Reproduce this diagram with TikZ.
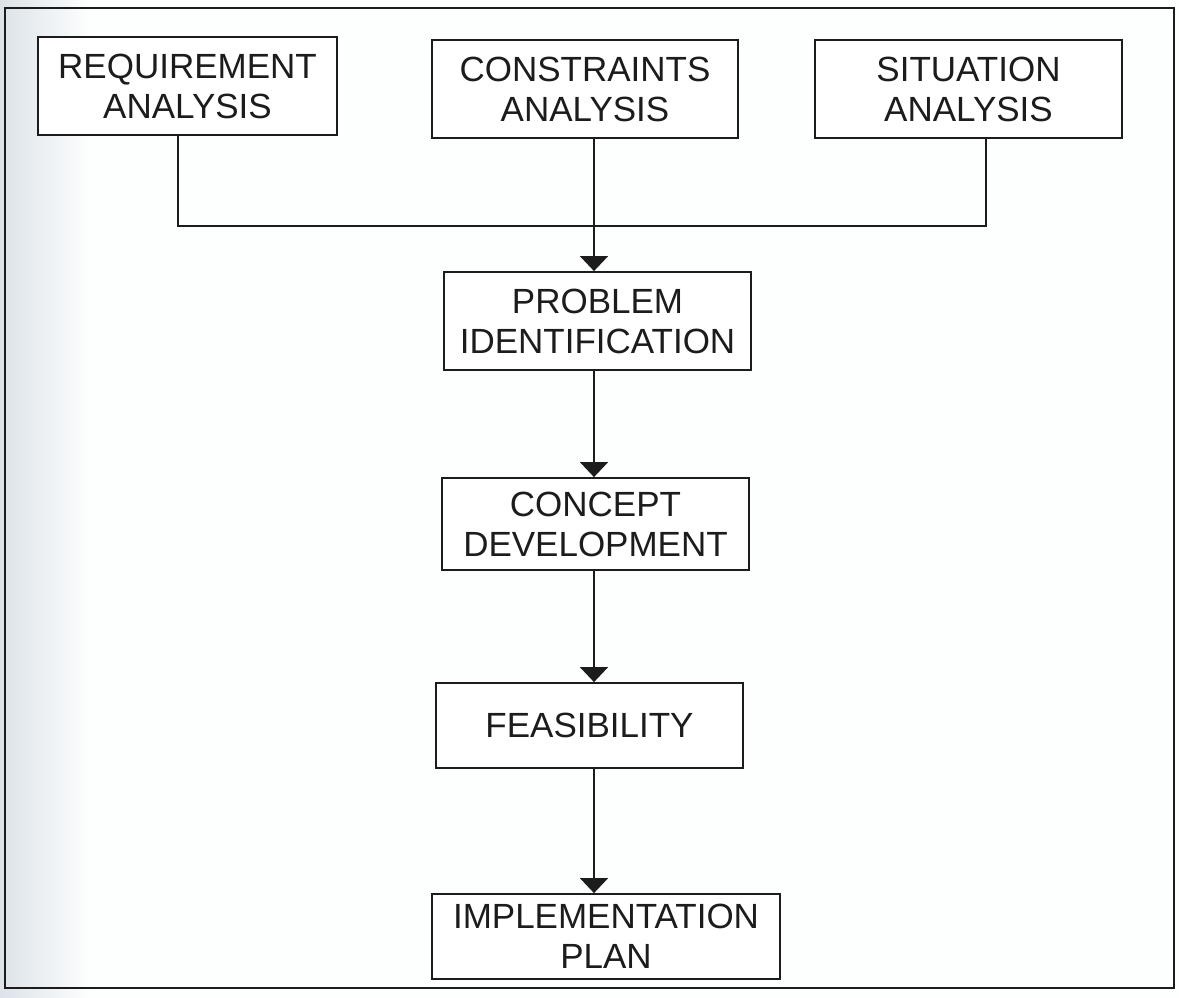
\documentclass[tikz,border=0pt]{standalone}
\usepackage{fontspec}
\setmainfont{Liberation Sans}
\usetikzlibrary{arrows.meta,calc}
\definecolor{ink}{HTML}{1C1C1C}
\definecolor{paper}{HTML}{FDFEFE}
\definecolor{scanedge}{HTML}{DCE3E9}
\begin{document}
\begin{tikzpicture}[x=1pt,y=-1pt,
  stagebox/.style={draw=ink,line width=1.8pt,fill=white,inner sep=0pt,
    minimum width=#1,align=center,text=ink,
    font=\fontsize{35}{40}\selectfont},
  flow/.style={draw=ink,line width=1.6pt},
  arr/.style={flow,-{Triangle[width=28pt,length=15pt]}}]
% page and soft shading at the left edge
\fill[paper] (0,0) rectangle (1179,998);
\shade[left color=scanedge,right color=paper] (0,0) rectangle (90,998);
\useasboundingbox (0,0) rectangle (1179,998);
% outer frame
\draw[ink,line width=2.2pt] (5,8) rectangle (1174,988);

% stages
\node[stagebox=299pt,minimum height=98pt] (req)  at (187.5,86)  {REQUIREMENT\\ANALYSIS};
\node[stagebox=306pt,minimum height=98pt] (cons) at (585,89)    {CONSTRAINTS\\ANALYSIS};
\node[stagebox=307pt,minimum height=98pt] (sit)  at (968.5,89)  {SITUATION\\ANALYSIS};
\node[stagebox=307pt,minimum height=98pt] (prob) at (597.5,321) {PROBLEM\\IDENTIFICATION};
\node[stagebox=307pt,minimum height=92pt] (conc) at (595.5,524) {CONCEPT\\DEVELOPMENT};
\node[stagebox=307pt,minimum height=85pt] (feas) at (589.5,725.5) {FEASIBILITY};
\node[stagebox=348pt,minimum height=85pt] (impl) at (606,936.5) {IMPLEMENTATION\\PLAN};

% routing points
\coordinate (spine) at (594,0);
\coordinate (joinL) at (178,226);
\coordinate (joinR) at (986,226);

% merge of the three analyses
\draw[flow] (req.south -| joinL) -- (joinL) -- (joinR) -- (sit.south -| joinR);
\draw[arr] (cons.south -| spine) -- (prob.north -| spine);
\draw[arr] (prob.south -| spine) -- (conc.north -| spine);
\draw[arr] (conc.south -| spine) -- (feas.north -| spine);
\draw[arr] (feas.south -| spine) -- (impl.north -| spine);
\end{tikzpicture}
\end{document}
